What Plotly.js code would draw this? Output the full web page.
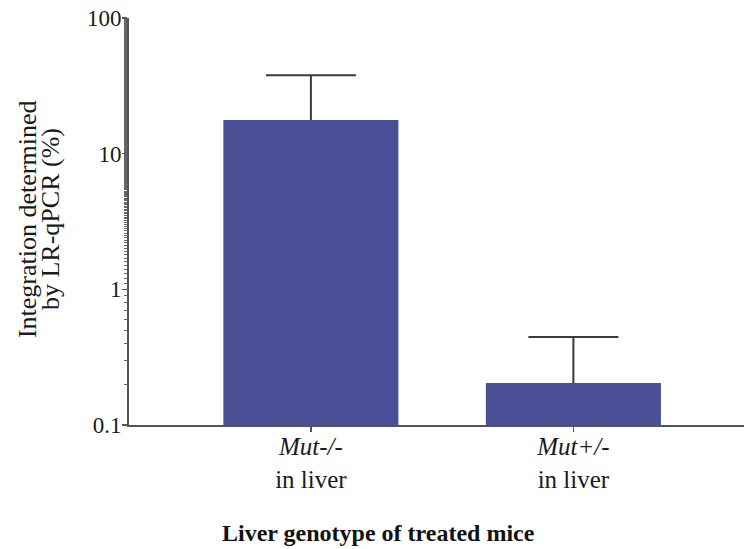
<!DOCTYPE html>
<html>
<head>
<meta charset="utf-8">
<script src="https://cdn.plot.ly/plotly-3.0.1.min.js"></script>
<style>html,body{margin:0;padding:0;background:#fff;}#chart{width:744px;height:549px;}</style>
</head>
<body>
<div id="chart"></div>
<script>
const categories = ["<i>Mut-/-</i><br>in liver", "<i>Mut+/-</i><br>in liver"];
const values = [17.7, 0.204];
const errorsPlus = [20.2, 0.241];
const yTickVals = [0.1, 1, 10, 100];
const yTickText = ["0.1", "1", "10", "100"];
const yTitleLines = ["Integration determined", "by LR-qPCR (%)"];
const xTitle = "Liver genotype of treated mice";

const font = "'Liberation Serif', 'Times New Roman', serif";

// error bars drawn beneath the bars (base axis), bars on an overlaid axis
const errTrace = {
  type: "scatter", mode: "markers",
  x: [0, 1], y: values,
  marker: {size: 1, opacity: 0},
  error_y: {type: "data", array: errorsPlus, arrayminus: values.map(v => v * 0.5),
            symmetric: false, color: "#3a3a3a", thickness: 2, width: 45},
  xaxis: "x", yaxis: "y", hoverinfo: "none"
};

const barTrace = {
  type: "bar",
  x: [0, 1],
  y: values,
  width: 0.667,
  marker: {color: "#4a5096", line: {width: 0}},
  xaxis: "x", yaxis: "y2",
  hoverinfo: "none"
};

const layout = {
  width: 744, height: 549,
  margin: {l: 129, r: 0, t: 18, b: 124},
  paper_bgcolor: "#fff", plot_bgcolor: "#fff",
  showlegend: false,
  font: {family: font, color: "#1a1a1a", size: 22},
  xaxis: {
    range: [-0.693, 1.65],
    tickvals: [0, 1], ticktext: categories,
    ticks: "outside", ticklen: 5, tickwidth: 1.5, tickcolor: "#555",
    ticklabelstandoff: -7,
    showline: true, linecolor: "#555", linewidth: 2,
    showgrid: false, zeroline: false,
    tickfont: {family: font, size: 25, color: "#1a1a1a"},
    fixedrange: true
  },
  yaxis: {
    type: "log", range: [-1, 2],
    tickvals: yTickVals, ticktext: yTickText,
    ticks: "outside", ticklen: 5, tickwidth: 1.5, tickcolor: "#555",
    ticklabelstandoff: -4,
    minor: {ticks: "outside", ticklen: 3, tickcolor: "#666", tickwidth: 1, showgrid: false},
    showline: true, linecolor: "#555", linewidth: 2,
    showgrid: false, zeroline: false,
    tickfont: {family: font, size: 23, color: "#1a1a1a"},
    fixedrange: true
  },
  yaxis2: {
    type: "log", range: [-1, 2], overlaying: "y",
    visible: false, showgrid: false, zeroline: false, fixedrange: true
  },
  annotations: [
    {text: yTitleLines[0], textangle: -90,
     xref: "paper", yref: "paper", x: 0, y: 0.506, xanchor: "center", yanchor: "middle",
     xshift: -102, showarrow: false, font: {family: font, size: 26, color: "#1a1a1a"}},
    {text: yTitleLines[1], textangle: -90,
     xref: "paper", yref: "paper", x: 0, y: 0.506, xanchor: "center", yanchor: "middle",
     xshift: -79, showarrow: false, font: {family: font, size: 26, color: "#1a1a1a"}},
    {text: "<b>" + xTitle + "</b>",
     xref: "paper", yref: "paper", x: 0.4065, y: -0.265, xanchor: "center", yanchor: "middle",
     showarrow: false, font: {family: font, size: 24, color: "#111"}}
  ]
};

Plotly.newPlot("chart", [errTrace, barTrace], layout, {displayModeBar: false, staticPlot: true});
</script>
</body>
</html>
